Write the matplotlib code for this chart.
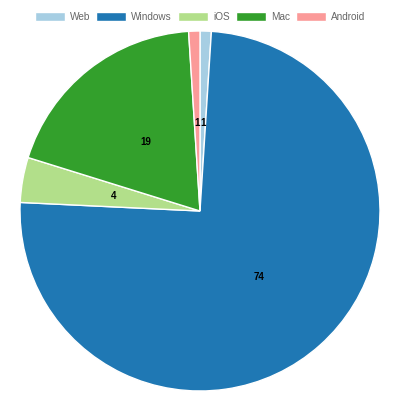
import matplotlib.pyplot as plt
from matplotlib.patches import Patch

plt.rcParams['font.family'] = ['Liberation Sans', 'DejaVu Sans']

labels = ['Web', 'Windows', 'iOS', 'Mac', 'Android']
values = [1, 74, 4, 19, 1]
colors = ['#a6cee3', '#1f78b4', '#b2df8a', '#33a02c', '#fb9a99']

fig = plt.figure(figsize=(3.98, 4.0), dpi=100)
ax = fig.add_axes([20 / 398, 9 / 400, 360 / 398, 360 / 400])

wedges, texts = ax.pie(values, colors=colors, startangle=90, counterclock=False,
                       labels=[str(v) for v in values], labeldistance=0.49,
                       wedgeprops=dict(edgecolor='white', linewidth=1))
for t in texts:
    t.set_fontsize(7)
    t.set_fontweight('bold')
    t.set_color('black')
    t.set_ha('center')
    t.set_va('center')
ax.set_xlim(-1, 1)
ax.set_ylim(-1, 1)
ax.set_aspect('equal')

handles = [Patch(facecolor=c, edgecolor='white') for c in colors]
fig.legend(handles, labels, loc='center', bbox_to_anchor=(200 / 398, 1 - 17 / 400),
           ncol=5, frameon=False, fontsize=7.2, labelcolor='#666666',
           handlelength=3.0, handleheight=1.0, handletextpad=0.5,
           columnspacing=0.6, borderaxespad=0)

fig.savefig('out.png', dpi=100)
